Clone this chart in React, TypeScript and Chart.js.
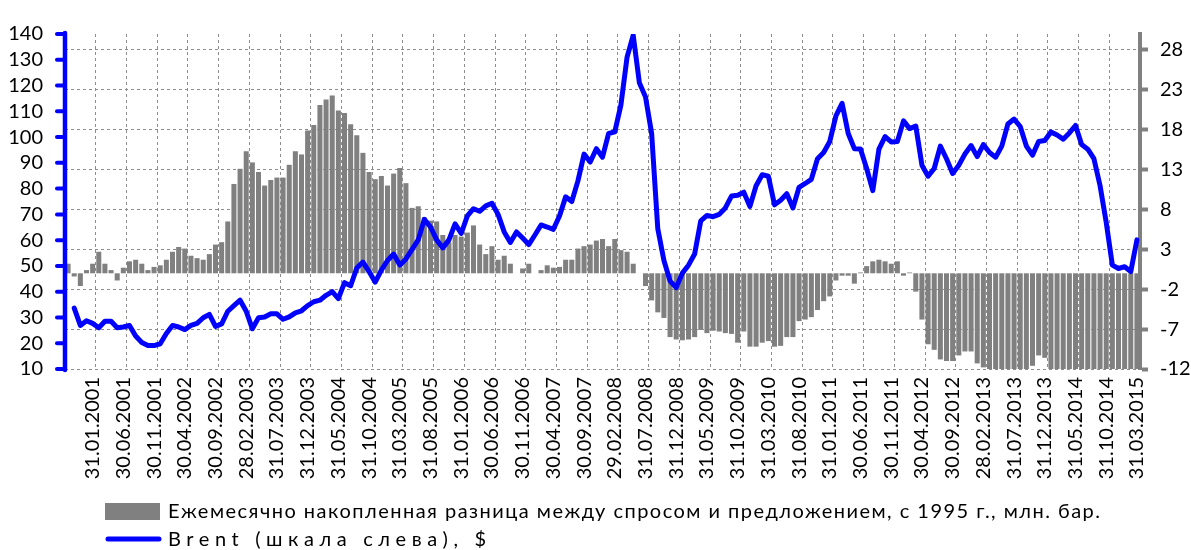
import React, { useEffect, useRef } from 'react';
import { Chart, registerables } from 'chart.js';

Chart.register(...registerables);

const FONT = "Lato, 'Open Sans', 'Noto Sans', sans-serif";
const BAR_COLOR = '#808080';
const LINE_COLOR = '#0000FF';
const GRID_COLOR = '#8c8c8c';

const BAR_LABEL = 'Ежемесячно накопленная разница между спросом и предложением, с 1995 г., млн. бар.';
const LINE_LABEL = 'Brent (шкала слева), $';

// first category: September 2000 (month-end values)
const FIRST_YEAR = 2000;
const FIRST_MONTH = 9;

// cumulative supply/demand balance, mln bbl (right axis)
const BALANCE = [
  1.2, -0.4, -1.6, 0.4, 1.2, 2.7, 1.2, 0.4, -0.9, 0.7,
  1.5, 1.7, 1.2, 0.4, 0.8, 1.0, 1.7, 2.7, 3.3, 3.1,
  2.2, 1.9, 1.7, 2.4, 3.6, 3.9, 6.5, 11.2, 13.1, 15.3,
  13.9, 12.7, 11.0, 11.7, 12.0, 12.0, 13.6, 15.3, 14.9, 17.9,
  18.6, 21.1, 21.8, 22.3, 20.4, 20.1, 18.7, 17.3, 15.1, 12.7,
  11.8, 12.2, 11.0, 12.5, 13.2, 11.3, 8.2, 8.4, 7.0, 6.6,
  6.5, 4.8, 3.9, 4.8, 4.6, 5.1, 6.0, 3.6, 2.4, 3.4,
  1.7, 2.2, 1.2, 0, 0.6, 1.2, 0, 0.4, 1.0, 0.7,
  0.8, 1.7, 1.7, 3.1, 3.4, 3.6, 4.1, 4.3, 3.4, 4.3,
  2.9, 2.7, 1.2, 0, -1.6, -3.4, -4.9, -5.6, -8.0, -8.3,
  -8.4, -8.3, -8.0, -7.1, -7.5, -7.2, -7.3, -7.5, -7.6, -8.7,
  -7.3, -9.2, -9.2, -8.7, -8.5, -9.2, -9.1, -8.0, -8.0, -6.0,
  -5.8, -5.5, -4.6, -3.5, -2.9, -0.9, -0.3, -0.3, -1.3, 0.1,
  0.9, 1.5, 1.7, 1.5, 1.2, 1.5, -0.3, 0.1, -2.3, -5.8,
  -8.9, -9.6, -10.8, -11.0, -11.0, -10.3, -9.8, -9.8, -11.3, -11.8,
  -14, -14, -14, -14, -14, -14, -14, -11.6, -10.3, -10.6,
  -14, -14, -14, -14, -14, -14, -14, -14, -14, -14,
  -14, -14, -14, -14, -14,
];

// Brent, $ (left axis)
const BRENT = [
  null, 33.6, 26.9, 28.7, 27.7, 26.0, 28.5, 28.5, 26.0, 26.3,
  26.9, 22.8, 20.3, 19.1, 19.1, 19.8, 23.8, 26.9, 26.3, 25.3,
  26.9, 27.7, 29.9, 31.2, 26.5, 27.5, 32.4, 34.6, 36.7, 32.4,
  25.6, 29.9, 30.2, 31.4, 31.4, 29.3, 30.2, 31.8, 32.6, 34.6,
  36.1, 36.7, 38.6, 40.0, 37.3, 43.5, 42.3, 49.2, 51.5, 47.8,
  43.7, 48.4, 52.1, 54.6, 50.3, 52.7, 56.4, 60.1, 68.1, 65.1,
  60.1, 57.0, 60.1, 66.3, 62.6, 69.4, 72.2, 71.2, 73.3, 74.3,
  70.0, 63.2, 59.1, 63.2, 60.8, 58.3, 62.0, 65.9, 65.1, 64.2,
  69.4, 76.8, 75.0, 83.0, 93.4, 90.3, 95.5, 92.2, 101.4, 102.0,
  112.5, 131.0, 139.5, 121.1, 115.6, 101.4, 64.4, 52.1, 44.1, 41.6,
  47.2, 50.3, 54.6, 67.5, 69.6, 69.1, 70.0, 72.5, 77.1, 77.4,
  78.6, 73.1, 81.1, 85.4, 84.8, 73.7, 75.5, 78.0, 72.5, 80.5,
  82.0, 83.6, 91.6, 94.0, 98.3, 108.2, 113.1, 101.4, 95.5, 95.4,
  87.8, 79.2, 95.3, 100.2, 98.1, 98.3, 106.3, 103.3, 104.3, 89.1,
  84.8, 87.8, 96.5, 91.6, 85.9, 89.1, 93.4, 96.7, 92.4, 97.1,
  94.0, 92.2, 96.5, 105.1, 107.0, 104.1, 96.5, 93.0, 98.3, 98.7,
  102.0, 100.8, 99.2, 101.6, 104.5, 97.1, 95.3, 91.6, 81.1, 66.9,
  50.3, 49.0, 49.7, 47.8, 60.1,
];

const TICK_LABELS = [
  '31.01.2001', '30.06.2001', '30.11.2001', '30.04.2002', '30.09.2002',
  '28.02.2003', '31.07.2003', '31.12.2003', '31.05.2004', '31.10.2004',
  '31.03.2005', '31.08.2005', '31.01.2006', '30.06.2006', '30.11.2006',
  '30.04.2007', '30.09.2007', '29.02.2008', '31.07.2008', '31.12.2008',
  '31.05.2009', '31.10.2009', '31.03.2010', '31.08.2010', '31.01.2011',
  '30.06.2011', '30.11.2011', '30.04.2012', '30.09.2012', '28.02.2013',
  '31.07.2013', '31.12.2013', '31.05.2014', '31.10.2014', '31.03.2015',
];

const LEFT_MIN = 10;
const LEFT_MAX = 140;
const LEFT_STEP = 10;
const RIGHT_MIN = -12;
const RIGHT_MAX = 30;
const RIGHT_TICKS = [-12, -7, -2, 3, 8, 13, 18, 23, 28];

const pad2 = (n: number) => String(n).padStart(2, '0');
const MONTHS: string[] = BALANCE.map((_, i) => {
  const m0 = FIRST_MONTH - 1 + i;
  const y = FIRST_YEAR + Math.floor(m0 / 12);
  const m = (m0 % 12) + 1;
  const d = new Date(y, m, 0).getDate();
  return `${pad2(d)}.${pad2(m)}.${y}`;
});

function drawSpacedText(ctx: CanvasRenderingContext2D, text: string, x: number, y: number, targetWidth: number) {
  const anyCtx = ctx as any;
  const hasLS = 'letterSpacing' in anyCtx;
  if (hasLS) anyCtx.letterSpacing = '0px';
  const w = ctx.measureText(text).width;
  const extra = Math.max(0, (targetWidth - w) / Math.max(1, text.length - 1));
  if (hasLS) {
    anyCtx.letterSpacing = `${extra}px`;
    ctx.fillText(text, x, y);
    anyCtx.letterSpacing = '0px';
  } else {
    let cx = x;
    for (const ch of text) {
      ctx.fillText(ch, cx, y);
      cx += ctx.measureText(ch).width + extra;
    }
  }
}

// draws the thick blue left axis with outward tick marks
const leftAxisPlugin = {
  id: 'leftAxis',
  afterDatasetsDraw(chart: any) {
    const ctx: CanvasRenderingContext2D = chart.ctx;
    const scale = chart.scales.y;
    const { left, top, bottom } = chart.chartArea;
    ctx.save();
    ctx.strokeStyle = LINE_COLOR;
    ctx.lineCap = 'round';
    ctx.lineWidth = 4.5;
    ctx.beginPath();
    ctx.moveTo(left, top - 1);
    ctx.lineTo(left, bottom + 1);
    ctx.stroke();
    ctx.lineWidth = 4;
    scale.ticks.forEach((t: any) => {
      const y = scale.getPixelForValue(t.value);
      ctx.beginPath();
      ctx.moveTo(left - 8, y);
      ctx.lineTo(left, y);
      ctx.stroke();
    });
    ctx.restore();
  },
};

const legendPlugin = {
  id: 'manualLegend',
  afterDraw(chart: any) {
    const ctx: CanvasRenderingContext2D = chart.ctx;
    const ds = chart.data.datasets;
    const barDs = ds.find((d: any) => d.type === 'bar');
    const lineDs = ds.find((d: any) => d.type === 'line');
    ctx.save();
    ctx.font = `20px ${FONT}`;
    ctx.textBaseline = 'middle';
    ctx.textAlign = 'left';
    ctx.fillStyle = barDs.backgroundColor;
    ctx.fillRect(105, 503, 55, 17);
    ctx.fillStyle = '#000000';
    drawSpacedText(ctx, barDs.label, 168, 512, 932);
    ctx.strokeStyle = lineDs.borderColor;
    ctx.lineWidth = 5;
    ctx.lineCap = 'round';
    ctx.beginPath();
    ctx.moveTo(108, 539);
    ctx.lineTo(159, 539);
    ctx.stroke();
    ctx.fillStyle = '#000000';
    drawSpacedText(ctx, lineDs.label, 168, 540, 318);
    ctx.restore();
  },
};

export default function App() {
  const canvasRef = useRef<HTMLCanvasElement | null>(null);

  useEffect(() => {
    document.body.style.margin = '0';
    const canvas = canvasRef.current;
    if (!canvas) return;
    const tickFont = { family: FONT, size: 20 };

    const chart = new Chart(canvas, {
      data: {
        labels: MONTHS,
        datasets: [
          {
            type: 'line',
            label: LINE_LABEL,
            data: BRENT,
            yAxisID: 'y',
            borderColor: LINE_COLOR,
            backgroundColor: LINE_COLOR,
            borderWidth: 5,
            pointRadius: 0,
            tension: 0,
            borderJoinStyle: 'round',
            borderCapStyle: 'round',
            order: 0,
            clip: 0,
          } as any,
          {
            type: 'bar',
            label: BAR_LABEL,
            data: BALANCE,
            yAxisID: 'y1',
            backgroundColor: BAR_COLOR,
            borderWidth: 0,
            barPercentage: 0.82,
            categoryPercentage: 1.0,
            order: 1,
            clip: 0,
          } as any,
        ],
      },
      options: {
        responsive: false,
        animation: false,
        devicePixelRatio: 1,
        layout: { padding: { top: 17, left: 0, right: 0, bottom: 0 } },
        plugins: {
          legend: { display: false },
          tooltip: { enabled: false },
        },
        scales: {
          x: {
            type: 'category',
            offset: true,
            border: { display: false, dash: [3, 3] },
            grid: {
              offset: true,
              drawTicks: false,
              lineWidth: 1,
              color: (ctx: any) => {
                const i = ctx.index;
                if (typeof i !== 'number' || i <= 0) return 'rgba(0,0,0,0)';
                return TICK_LABELS.includes(MONTHS[i - 1]) ? GRID_COLOR : 'rgba(0,0,0,0)';
              },
            },
            ticks: {
              autoSkip: false,
              maxRotation: 90,
              minRotation: 90,
              padding: 8,
              color: '#000000',
              font: tickFont,
              callback: (_v: any, index: number) =>
                TICK_LABELS.includes(MONTHS[index]) ? MONTHS[index] : '',
            },
            afterFit: (scale: any) => {
              scale.height = 181;
            },
          },
          y: {
            type: 'linear',
            position: 'left',
            min: LEFT_MIN,
            max: LEFT_MAX,
            border: { display: false },
            grid: { display: false, drawOnChartArea: false, drawTicks: false },
            ticks: {
              stepSize: LEFT_STEP,
              autoSkip: false,
              padding: 22,
              color: '#000000',
              font: tickFont,
            },
            afterFit: (scale: any) => {
              scale.width = 65;
            },
          },
          y1: {
            type: 'linear',
            position: 'right',
            min: RIGHT_MIN,
            max: RIGHT_MAX,
            border: { display: true, color: BAR_COLOR, width: 4, dash: [3, 3] },
            grid: {
              drawOnChartArea: true,
              color: GRID_COLOR,
              lineWidth: 1,
              drawTicks: true,
              tickLength: 8,
              tickColor: BAR_COLOR,
              tickWidth: 4,
              tickBorderDash: [],
            } as any,
            ticks: {
              autoSkip: false,
              padding: 12,
              color: '#000000',
              font: tickFont,
            },
            afterBuildTicks: (scale: any) => {
              scale.ticks = RIGHT_TICKS.map((v) => ({ value: v }));
            },
            afterFit: (scale: any) => {
              scale.width = 51;
            },
          },
        },
      } as any,
      plugins: [leftAxisPlugin, legendPlugin],
    });

    return () => {
      chart.destroy();
    };
  }, []);

  return (
    <div style={{ width: 1191, height: 550, position: 'relative', background: '#ffffff' }}>
      <canvas ref={canvasRef} width={1191} height={550} style={{ display: 'block' }} />
    </div>
  );
}
